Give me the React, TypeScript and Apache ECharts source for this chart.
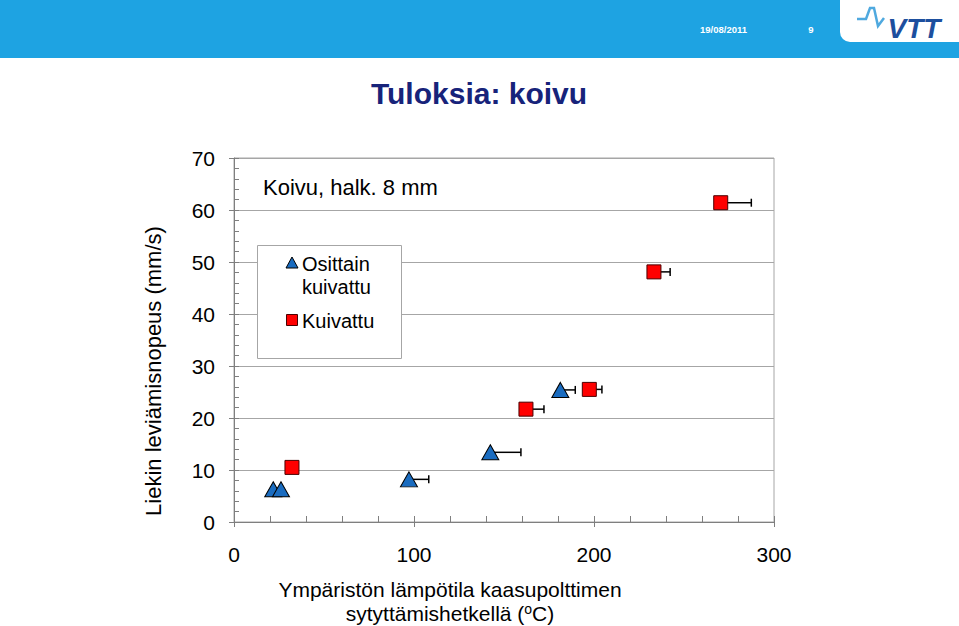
import React, { useEffect, useRef } from "react";
import * as echarts from "echarts";

const triX = [21.8, 26.1, 97.2, 142.4, 181.3];
const triY = [6.3, 6.3, 8.2, 13.4, 25.4];
const triErr = [0, 0, 11, 17, 8.3];
const sqX = [32.2, 162.2, 197.4, 233.3, 270.4];
const sqY = [10.5, 21.7, 25.5, 48.1, 61.4];
const sqErr = [0, 10, 7, 9, 17];

const seriesNames = ["Osittain\nkuivattu", "Kuivattu"];
const xTicks = [0, 100, 200, 300];
const yTicks = [0, 10, 20, 30, 40, 50, 60, 70];

const FONT = "'Liberation Sans', Arial, sans-serif";

function errRender(params: any, api: any) {
  const x = api.value(0);
  const y = api.value(1);
  const e = api.value(2);
  if (!e) return { type: "group", children: [] };
  const p0 = api.coord([x, y]);
  const p1 = api.coord([x + e, y]);
  const st = { stroke: "#000", lineWidth: 1.5 };
  return {
    type: "group",
    children: [
      { type: "line", shape: { x1: p0[0], y1: p0[1], x2: p1[0], y2: p1[1] }, style: st },
      { type: "line", shape: { x1: p1[0], y1: p1[1] - 4, x2: p1[0], y2: p1[1] + 4 }, style: st },
    ],
  };
}

export default function App() {
  const ref = useRef<HTMLDivElement>(null);
  useEffect(() => {
    if (!ref.current) return;
    const chart = echarts.init(ref.current, null, { renderer: "svg" });
    const gridRect = { left: 234, top: 158, width: 540, height: 364 };
    const option: any = {
      animation: false,
      backgroundColor: "#fff",
      textStyle: { fontFamily: FONT },
      grid: [
        { ...gridRect, show: true, borderColor: "#a6a6a6", borderWidth: 1, backgroundColor: "transparent" },
        { ...gridRect },
      ],
      xAxis: [
        {
          gridIndex: 0,
          type: "value",
          min: xTicks[0],
          max: xTicks[xTicks.length - 1],
          interval: 100,
          axisLine: { show: true, lineStyle: { color: "#7f7f7f", width: 1 } },
          axisTick: { show: true, inside: false, length: 5, lineStyle: { color: "#7f7f7f" } },
          axisLabel: { color: "#000", fontSize: 21, margin: 22, fontFamily: FONT },
          splitLine: { show: false },
        },
        {
          gridIndex: 1,
          type: "value",
          min: 0,
          max: 300,
          interval: 20,
          axisLine: { show: false },
          axisTick: { show: true, inside: true, length: 6, lineStyle: { color: "#7f7f7f" } },
          axisLabel: { show: false },
          splitLine: { show: false },
        },
      ],
      yAxis: [
        {
          gridIndex: 0,
          type: "value",
          min: yTicks[0],
          max: yTicks[yTicks.length - 1],
          interval: 10,
          axisLine: { show: true, lineStyle: { color: "#7f7f7f", width: 1 } },
          axisTick: { show: true, inside: false, length: 5, lineStyle: { color: "#7f7f7f" } },
          axisLabel: { color: "#000", fontSize: 21, margin: 19, fontFamily: FONT },
          splitLine: { show: true, lineStyle: { color: "#a6a6a6", width: 1 } },
        },
        {
          gridIndex: 1,
          type: "value",
          min: 0,
          max: 70,
          interval: 2,
          axisLine: { show: false },
          axisTick: { show: true, inside: true, length: 5, lineStyle: { color: "#7f7f7f" } },
          axisLabel: { show: false },
          splitLine: { show: false },
        },
      ],
      series: [
        {
          type: "custom",
          name: "err1",
          xAxisIndex: 0,
          yAxisIndex: 0,
          renderItem: errRender,
          data: triX.map((x, i) => [x, triY[i], triErr[i]]),
          z: 1,
          silent: true,
        },
        {
          type: "custom",
          name: "err2",
          xAxisIndex: 0,
          yAxisIndex: 0,
          renderItem: errRender,
          data: sqX.map((x, i) => [x, sqY[i], sqErr[i]]),
          z: 1,
          silent: true,
        },
        {
          type: "scatter",
          name: seriesNames[0],
          xAxisIndex: 0,
          yAxisIndex: 0,
          symbol: "triangle",
          symbolSize: [17, 15],
          itemStyle: { color: "#1a6cc0", borderColor: "#000", borderWidth: 1, opacity: 1 },
          data: triX.map((x, i) => [x, triY[i]]),
          z: 3,
        },
        {
          type: "scatter",
          name: seriesNames[1],
          xAxisIndex: 0,
          yAxisIndex: 0,
          symbol: "rect",
          symbolSize: 14,
          itemStyle: { color: "#ff0000", borderColor: "#4a0000", borderWidth: 1, opacity: 1 },
          data: sqX.map((x, i) => [x, sqY[i]]),
          z: 3,
        },
      ],
      graphic: [
        { type: "rect", shape: { x: 0, y: 0, width: 959, height: 58 }, style: { fill: "#1ea3e2" }, z: 0 },
        { type: "rect", shape: { x: 840, y: -12, width: 140, height: 54, r: 10 }, style: { fill: "#fff" }, z: 1 },
        {
          type: "polyline",
          shape: { points: [[857, 19], [866, 19], [870, 8], [874, 8], [878, 26], [884, 18]] },
          style: { stroke: "#4fa9df", lineWidth: 2.5, fill: null },
          z: 2,
        },
        {
          type: "text",
          x: 914,
          y: 28,
          style: {
            text: "VTT",
            fill: "#1d4f9e",
            font: "italic bold 28px 'Liberation Sans', Arial, sans-serif",
            textAlign: "center",
            textVerticalAlign: "middle",
          },
          z: 2,
        },
        {
          type: "text",
          x: 700,
          y: 29,
          style: { text: "19/08/2011", fill: "#fff", font: "bold 9.5px 'Liberation Sans', Arial, sans-serif", textVerticalAlign: "middle" },
          z: 2,
        },
        {
          type: "text",
          x: 811,
          y: 29,
          style: { text: "9", fill: "#fff", font: "bold 9.5px 'Liberation Sans', Arial, sans-serif", textAlign: "center", textVerticalAlign: "middle" },
          z: 2,
        },
        {
          type: "text",
          x: 479,
          y: 93,
          style: {
            text: "Tuloksia: koivu",
            fill: "#17237a",
            font: "bold 30px 'Liberation Sans', Arial, sans-serif",
            textAlign: "center",
            textVerticalAlign: "middle",
          },
        },
        {
          type: "text",
          x: 153,
          y: 371,
          rotation: Math.PI / 2,
          style: {
            text: "Liekin leviämisnopeus (mm/s)",
            fill: "#000",
            font: "22px 'Liberation Sans', Arial, sans-serif",
            textAlign: "center",
            textVerticalAlign: "middle",
          },
        },
        {
          type: "text",
          x: 263,
          y: 187,
          style: { text: "Koivu, halk. 8 mm", fill: "#000", font: "22px 'Liberation Sans', Arial, sans-serif", textVerticalAlign: "middle" },
          z: 5,
        },
        {
          type: "rect",
          shape: { x: 257.5, y: 245.5, width: 144, height: 113 },
          style: { fill: "#fff", stroke: "#a6a6a6", lineWidth: 1 },
          z: 4,
        },
        {
          type: "polygon",
          shape: { points: [[292, 257], [286, 268], [298, 268]] },
          style: { fill: "#1a6cc0", stroke: "#000", lineWidth: 1 },
          z: 5,
        },
        {
          type: "text",
          x: 302,
          y: 264,
          style: { text: "Osittain", fill: "#000", font: "20px 'Liberation Sans', Arial, sans-serif", textVerticalAlign: "middle" },
          z: 5,
        },
        {
          type: "text",
          x: 302,
          y: 287,
          style: { text: "kuivattu", fill: "#000", font: "20px 'Liberation Sans', Arial, sans-serif", textVerticalAlign: "middle" },
          z: 5,
        },
        {
          type: "rect",
          shape: { x: 286.5, y: 314.5, width: 11, height: 11 },
          style: { fill: "#ff0000", stroke: "#4a0000", lineWidth: 1 },
          z: 5,
        },
        {
          type: "text",
          x: 302,
          y: 321,
          style: { text: "Kuivattu", fill: "#000", font: "20px 'Liberation Sans', Arial, sans-serif", textVerticalAlign: "middle" },
          z: 5,
        },
        {
          type: "text",
          x: 450,
          y: 589,
          style: {
            text: "Ympäristön lämpötila kaasupolttimen",
            fill: "#000",
            font: "21px 'Liberation Sans', Arial, sans-serif",
            textAlign: "center",
            textVerticalAlign: "middle",
          },
        },
        {
          type: "text",
          x: 450,
          y: 613,
          style: {
            text: "sytyttämishetkellä ({sup|o}C)",
            fill: "#000",
            font: "21px 'Liberation Sans', Arial, sans-serif",
            fontFamily: FONT,
            fontSize: 21,
            textAlign: "center",
            textVerticalAlign: "middle",
            rich: {
              sup: { fontSize: 14, fontFamily: FONT, fill: "#000", verticalAlign: "top", padding: [0, 0, 8, 0] },
            },
          },
        },
      ],
    };
    chart.setOption(option);
    return () => chart.dispose();
  }, []);
  return (
    <div
      ref={ref}
      style={{ position: "absolute", left: 0, top: 0, width: 959, height: 626, background: "#fff" }}
    />
  );
}
